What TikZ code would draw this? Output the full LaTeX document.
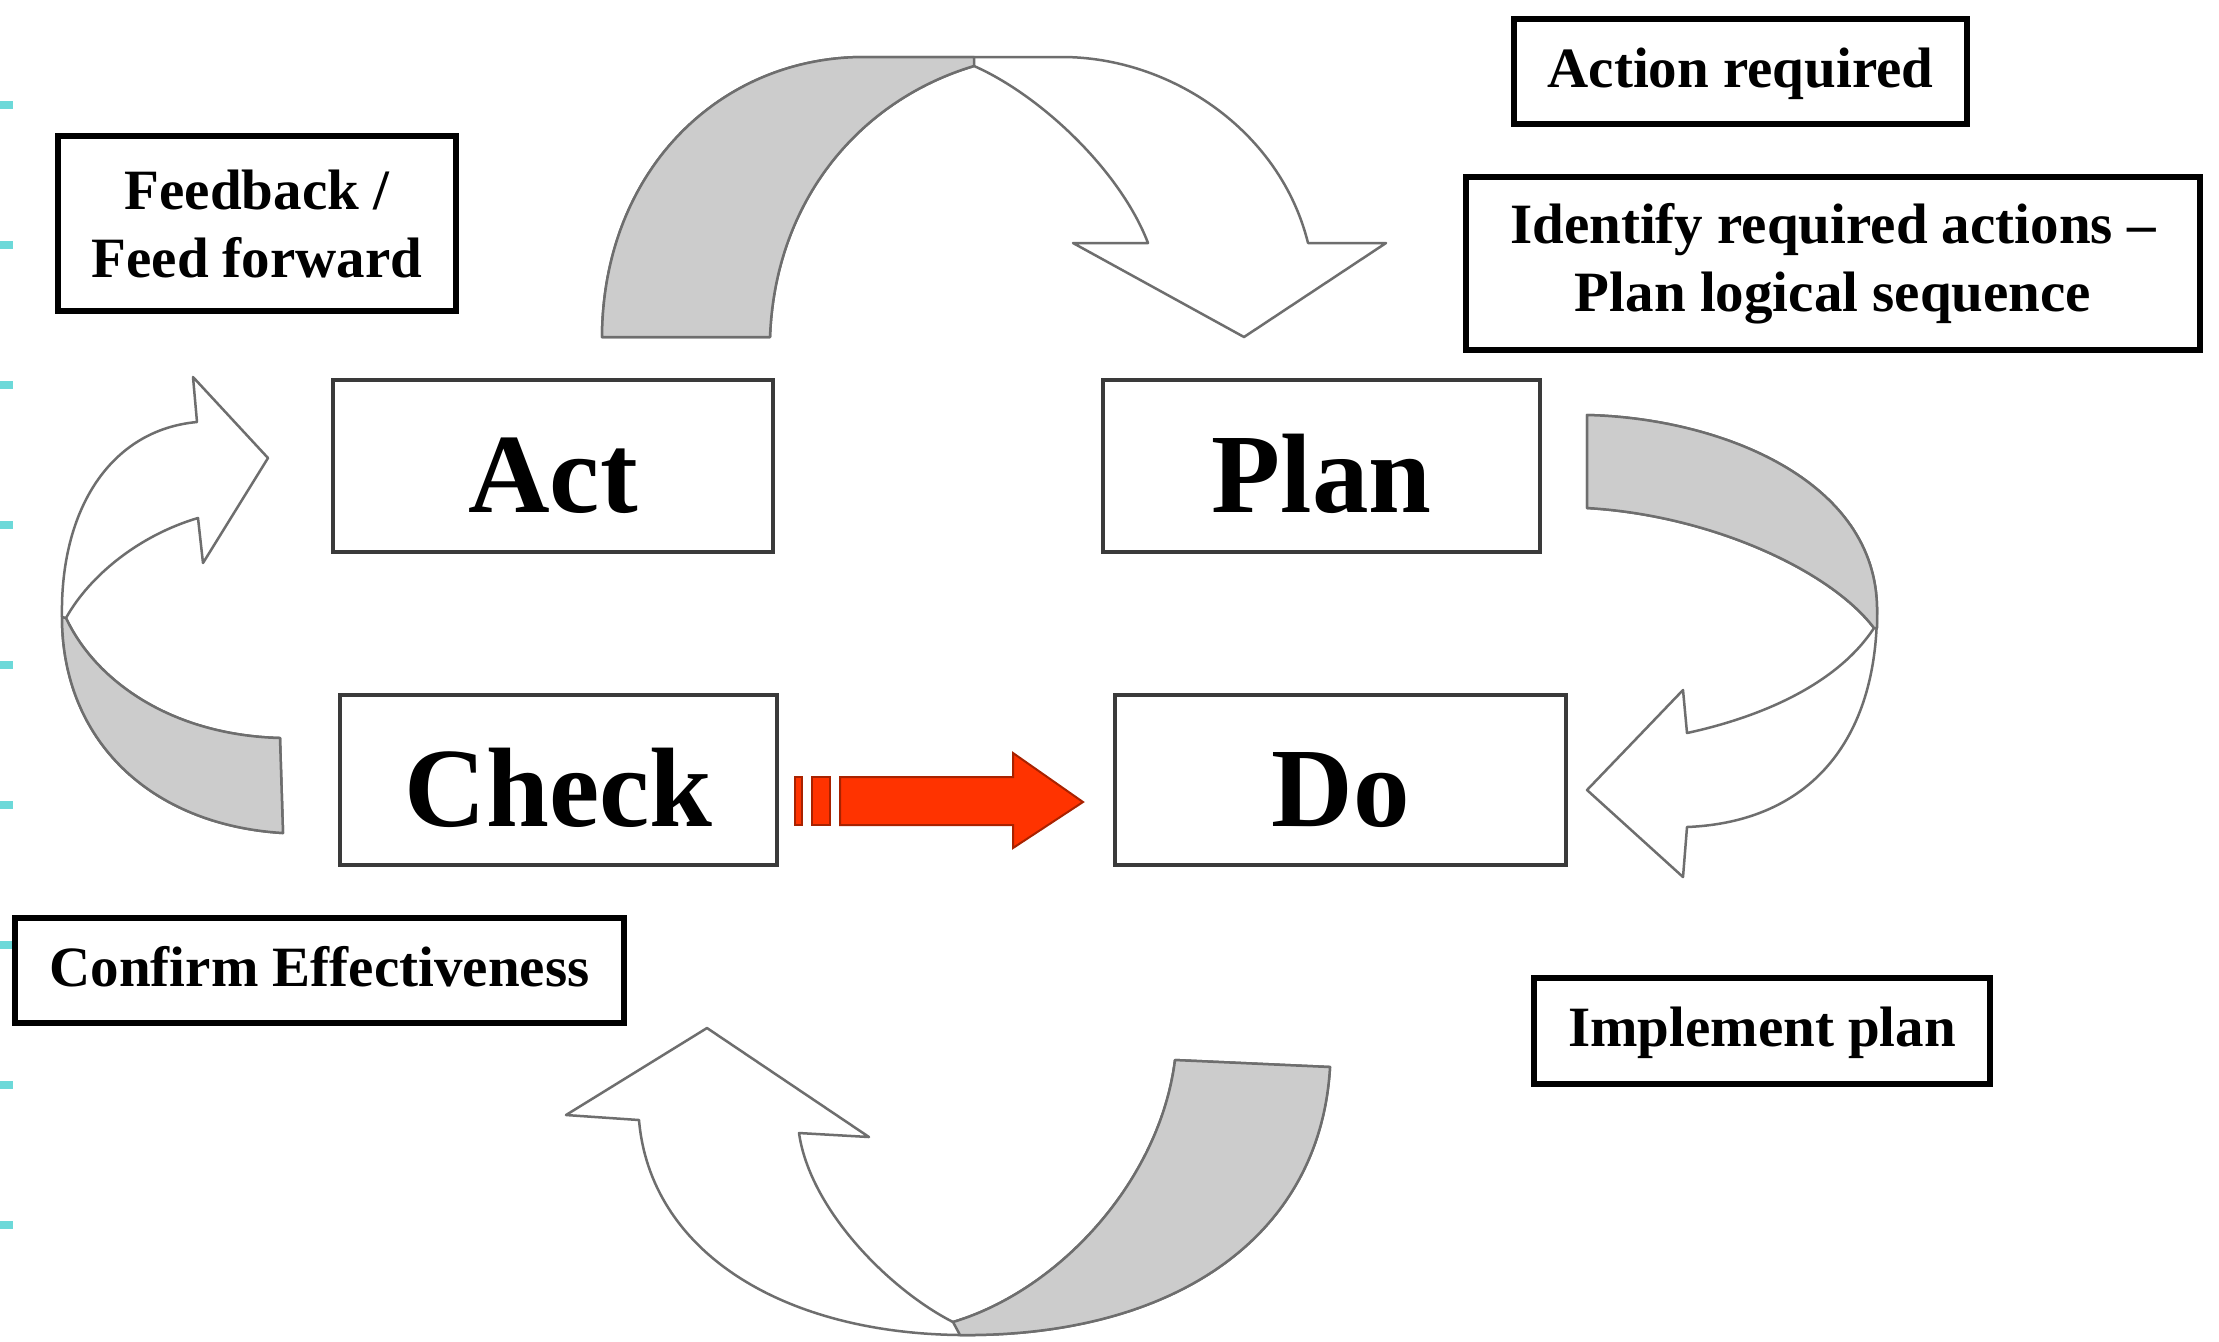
\documentclass[tikz,border=0pt]{standalone}
\usepackage{fontspec}
\setmainfont{Liberation Serif}
\definecolor{ribbongray}{HTML}{CCCCCC}
\definecolor{ribbonline}{HTML}{6E6E6E}
\definecolor{boxline}{HTML}{3A3A3A}
\definecolor{arrowred}{HTML}{FF3300}
\definecolor{arrowdark}{HTML}{A82200}
\definecolor{tickcyan}{HTML}{6CD9D9}
\begin{document}
\begin{tikzpicture}[x=0.5pt,y=-0.5pt,
  mainbox/.style={draw=boxline, line width=2pt, fill=white, inner sep=0pt,
    text height=51pt, text depth=5pt,
    font=\bfseries\fontsize{56.5}{60}\selectfont},
  notebox/.style={draw=black, line width=3pt, fill=white, inner sep=0pt, align=center,
    font=\bfseries\fontsize{28.5}{34}\selectfont},
  oneline/.style={text height=21.4pt, text depth=5.7pt},
  ribbon/.style={draw=ribbonline, line width=1.25pt, line join=round},
  ribbonback/.style={ribbon, fill=ribbongray},
  ribbonfront/.style={ribbon, fill=white},
  redblock/.style={fill=arrowred, draw=arrowdark, line width=1pt, line join=miter},
  tick/.style={fill=tickcyan}]
\useasboundingbox (0,0) rectangle (2219,1341);
\fill[white] (0,0) rectangle (2219,1341);

% cyan ticks on the left edge
\foreach \k in {0,...,8} {
  \fill[tick] (0,{101+140*\k}) rectangle (13,{109+140*\k});
}

% ---- top ribbon arrow (Act -> Plan)
\path[ribbonfront] (602,337) .. controls (603,170) and (720,57) .. (864,57) -- (1062,57)
  .. controls (1170,57) and (1280,130) .. (1308,243)
  -- (1386,243) -- (1244,337) -- (1073,243) -- (1148,243)
  .. controls (1120,170) and (1040,95) .. (974,66)
  .. controls (860,100) and (775,200) .. (770,337) -- cycle;
\path[ribbonback] (602,337) .. controls (603,170) and (720,57) .. (864,57) -- (974,57) -- (974,66)
  .. controls (860,100) and (775,200) .. (770,337) -- cycle;

% ---- right ribbon arrow (Plan -> Do)
\path[ribbonfront] (1587,415) .. controls (1720,418) and (1877,480) .. (1877,610)
  .. controls (1877,740) and (1810,822) .. (1687,827)
  -- (1683,877) -- (1587,790) -- (1683,690) -- (1687,733)
  .. controls (1770,715) and (1840,680) .. (1874,628)
  .. controls (1830,570) and (1710,515) .. (1587,508) -- cycle;
\path[ribbonback] (1587,415) .. controls (1720,418) and (1877,480) .. (1877,610) -- (1877,628) -- (1874,628)
  .. controls (1830,570) and (1710,515) .. (1587,508) -- cycle;

% ---- bottom ribbon arrow (Do -> Check)
\path[ribbonfront] (1330,1067) .. controls (1320,1240) and (1170,1337) .. (960,1335)
  .. controls (780,1333) and (650,1250) .. (639,1120)
  -- (566,1115) -- (707,1028) -- (869,1137) -- (799,1133)
  .. controls (810,1210) and (890,1290) .. (953,1322)
  .. controls (1060,1290) and (1160,1180) .. (1175,1060) -- cycle;
\path[ribbonback] (1330,1067) .. controls (1320,1240) and (1170,1337) .. (960,1335) -- (953,1322)
  .. controls (1060,1290) and (1160,1180) .. (1175,1060) -- cycle;

% ---- left ribbon arrow (Check -> Act)
\path[ribbonfront] (283,833) .. controls (150,825) and (62,740) .. (62,617)
  .. controls (60,510) and (110,430) .. (197,422)
  -- (193,377) -- (268,458) -- (203,563) -- (198,518)
  .. controls (140,535) and (90,575) .. (66,618)
  .. controls (95,680) and (170,735) .. (280,738) -- cycle;
\path[ribbonback] (283,833) .. controls (150,825) and (62,740) .. (62,617) -- (66,618)
  .. controls (95,680) and (170,735) .. (280,738) -- cycle;

% ---- main boxes
\node[mainbox, minimum width=220pt, minimum height=86pt] (act) at (553,466) {Act};
\node[mainbox, minimum width=218.5pt, minimum height=86pt] (plan) at (1321.5,466) {Plan};
\node[mainbox, minimum width=218.5pt, minimum height=85pt] (check) at (558.5,780) {Check};
\node[mainbox, minimum width=225.5pt, minimum height=85pt] (do) at (1340.5,780) {Do};

% ---- note boxes
\node[notebox, minimum width=199pt, minimum height=87.5pt] (feedback) at (257,223.5) {Feedback /\\Feed forward};
\node[notebox, oneline, minimum width=226.5pt, minimum height=52.5pt] (actionreq) at (1740.5,71.5) {Action required};
\node[notebox, minimum width=367pt, minimum height=86.5pt] (identify) at (1833,263.5) {Identify required actions --\\Plan logical sequence};
\node[notebox, oneline, minimum width=304.5pt, minimum height=52.5pt] (confirm) at (319.5,970.5) {Confirm Effectiveness};
\node[notebox, oneline, minimum width=228pt, minimum height=53pt] (implement) at (1762,1031) {Implement plan};

% ---- red striped arrow (Check -> Do)
\path[redblock] (795,777) rectangle (802,825);
\path[redblock] (812,777) rectangle (830,825);
\path[redblock] (840,777) -- (1013,777) -- (1013,753) -- (1083,802) -- (1013,848) -- (1013,825) -- (840,825) -- cycle;
\end{tikzpicture}
\end{document}
